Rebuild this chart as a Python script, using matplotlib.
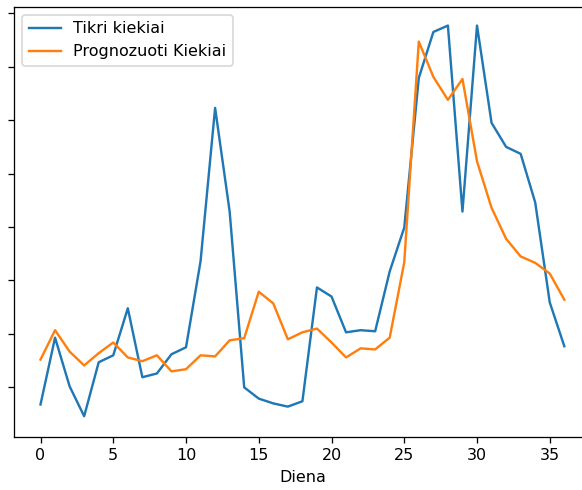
import matplotlib
matplotlib.use('Agg')
import matplotlib.pyplot as plt

# Days on the x axis
days = list(range(37))

tikri = [0.68, 1.93, 1.02, 0.46, 1.47, 1.60, 2.48, 1.19, 1.26, 1.62,
         1.75, 3.36, 6.23, 4.29, 1.00, 0.79, 0.70, 0.64, 0.74, 2.87,
         2.70, 2.03, 2.07, 2.05, 3.17, 3.99, 6.79, 7.65, 7.77, 4.29,
         7.77, 5.95, 5.50, 5.37, 4.46, 2.59, 1.77]

# Predicted values
prognoze = [1.52, 2.07, 1.67, 1.41, 1.64, 1.84, 1.56, 1.49, 1.60, 1.30,
            1.34, 1.60, 1.58, 1.88, 1.92, 2.79, 2.57, 1.90, 2.03, 2.10,
            1.84, 1.56, 1.73, 1.71, 1.93, 3.34, 7.47, 6.81, 6.38, 6.77,
            5.23, 4.36, 3.78, 3.45, 3.33, 3.13, 2.64]

# the reference looks like a slightly upscaled render, so bump the dpi
dpi = 115
fig = plt.figure(figsize=(582 / dpi, 490 / dpi), dpi=dpi)
# axes run past the right edge of the figure (cropped in the reference)
ax = fig.add_axes([0.0246, 0.108, 0.99, 0.878])

ax.plot(days, tikri, label='Tikri kiekiai')
ax.plot(days, prognoze, label='Prognozuoti Kiekiai')

# y tick marks without labels
ax.set_yticks(range(1, 9))
ax.set_yticklabels([])
ax.set_ylim(0.07, 8.12)
ax.spines['right'].set_visible(False)

ax.set_xlabel('Diena')
ax.legend(loc='upper left')

fig.savefig('out.png', dpi=dpi)
